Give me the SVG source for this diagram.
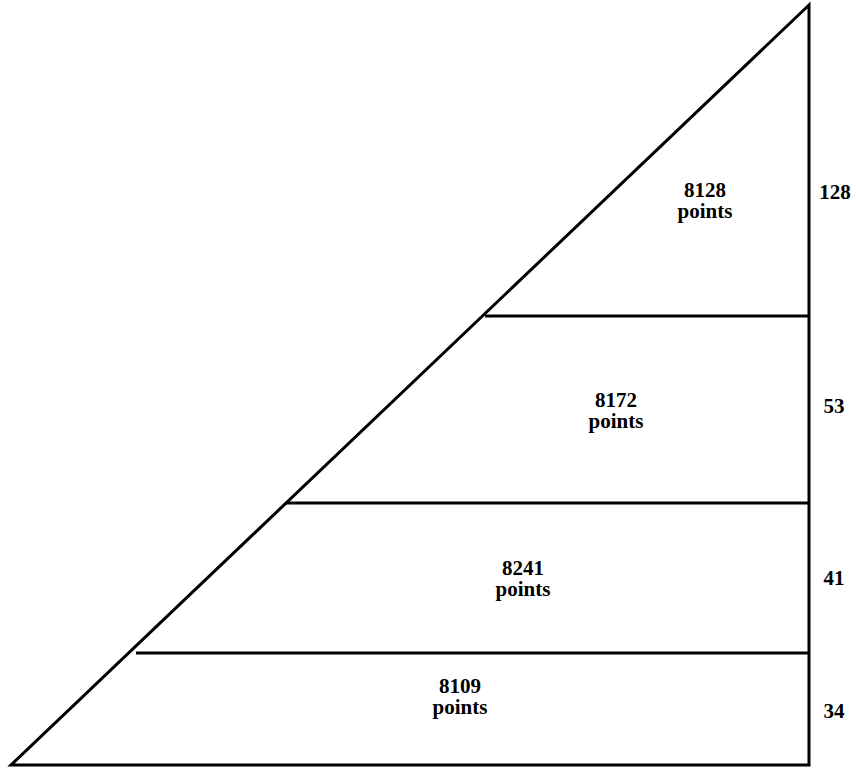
<svg xmlns="http://www.w3.org/2000/svg" width="856" height="769" viewBox="0 0 856 769">
<style>
.ln{stroke:#000;stroke-width:3;fill:none}
text{font-family:"Liberation Serif","Times New Roman",serif;font-weight:bold;font-size:21px;text-anchor:middle;fill:#000}
</style>
<rect width="856" height="769" fill="#fff"/>
<g id="connectors">
<path class="ln" d="M809,5 L11,765 L809,765 Z" stroke-linejoin="miter"/>
<line class="ln" x1="485" y1="316" x2="809" y2="316"/>
<line class="ln" x1="286" y1="503" x2="809" y2="503"/>
<line class="ln" x1="136" y1="653" x2="809" y2="653"/>
</g>
<g id="tier1"><text x="705" y="197">8128</text><text x="705" y="218">points</text><text x="835" y="199">128</text></g>
<g id="tier2"><text x="616" y="407">8172</text><text x="616" y="428">points</text><text x="834" y="413">53</text></g>
<g id="tier3"><text x="523" y="575">8241</text><text x="523" y="596">points</text><text x="834" y="585">41</text></g>
<g id="tier4"><text x="460" y="693">8109</text><text x="460" y="714">points</text><text x="834" y="718">34</text></g>
</svg>
